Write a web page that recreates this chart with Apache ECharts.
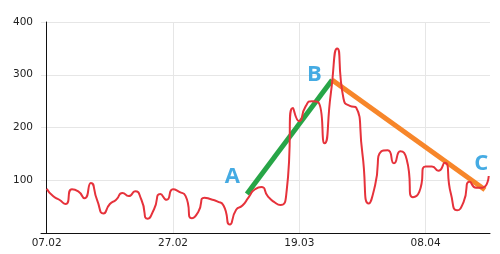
<!DOCTYPE html>
<html>
<head>
<meta charset="UTF-8" />
<title></title>
<script src="https://cdn.jsdelivr.net/npm/echarts@6/dist/echarts.min.js"></script>
<style>
  body { margin: 0; background: #fff; }
  #chart { width: 500px; height: 254px; }
</style>
</head>
<body>
<div id="chart"></div>
<script>
// daily values, 07.02 .. 18.04 (day index 0..70)
var values = [84, 70, 63, 55, 83, 79, 66, 95, 62, 37,
              55, 63, 76, 70, 79, 63, 27, 45, 74, 63,
              83, 78, 70, 28, 40, 67, 64, 60, 52, 16,
              44, 52, 68, 83, 87, 70, 59, 53, 80, 237,
              212, 240, 250, 248, 170, 265, 350, 255, 241, 238,
              150, 56, 90, 155, 157, 132, 155, 140, 68, 78,
              126, 126, 118, 133, 75, 43, 58, 97, 86, 86,
              108];
var tickDays = [0, 20, 40, 60];
var tickLabels = ['07.02', '27.02', '19.03', '08.04'];
// trend lines, [day, value]
var lineAB = [[31.7, 74], [45.2, 290]];
var lineBC = [[45.2, 290], [69.4, 82]];
var letters = ['A', 'B', 'C'];
var letterPos = [[29.4, 106], [42.4, 300], [68.8, 131]];

var pts = [];
for (var i = 0; i < values.length; i++) pts.push([i, values[i]]);
var marks = [];
for (var j = 0; j < letters.length; j++) marks.push({ value: letterPos[j], name: letters[j] });

var myChart = echarts.init(document.getElementById('chart'));
myChart.setOption({
  animation: false,
  grid: { left: 41, right: 10, top: 22, bottom: 21 },
  xAxis: {
    type: 'value',
    min: -0.9,
    max: 70.2,
    axisLine: { show: true, lineStyle: { color: '#111', width: 1 } },
    axisTick: { show: false, customValues: tickDays },
    axisLabel: {
      customValues: tickDays,
      margin: 5,
      color: '#222',
      fontFamily: 'DejaVu Sans',
      fontSize: 10.5,
      formatter: function (v) { return tickLabels[tickDays.indexOf(v)] || ''; }
    },
    splitLine: { show: true, lineStyle: { color: '#e6e6e6', width: 1 } }
  },
  yAxis: {
    type: 'value',
    min: 0,
    max: 400,
    interval: 100,
    axisLine: { show: true, lineStyle: { color: '#111', width: 1 } },
    axisTick: { show: false },
    axisLabel: {
      showMinLabel: false,
      margin: 8,
      color: '#222',
      fontFamily: 'DejaVu Sans',
      fontSize: 10.5
    },
    splitLine: { show: true, lineStyle: { color: '#e6e6e6', width: 1 } }
  },
  series: [
    {
      type: 'line', data: lineAB, showSymbol: false, z: 3,
      lineStyle: { color: '#27a547', width: 5 }
    },
    {
      type: 'line', data: lineBC, showSymbol: false, z: 3,
      lineStyle: { color: '#f7862a', width: 5 }
    },
    {
      type: 'line', data: pts, showSymbol: false, smooth: 0.65, z: 4,
      lineStyle: { color: '#e6323b', width: 2 }
    },
    {
      type: 'scatter', data: marks, symbolSize: 0, z: 5,
      label: {
        show: true, position: 'inside',
        formatter: function (p) { return p.name; },
        color: '#1796dc', fontFamily: 'Open Sans', fontWeight: 'bold', fontSize: 22
      }
    }
  ]
});
</script>
</body>
</html>
